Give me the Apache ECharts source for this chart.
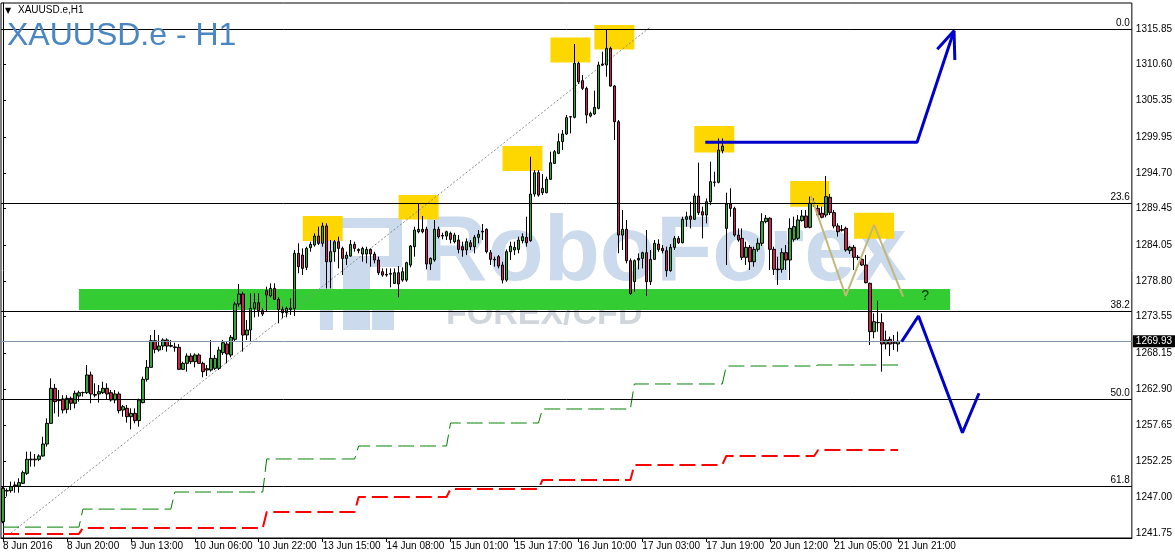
<!DOCTYPE html>
<html><head><meta charset="utf-8">
<script src="https://cdn.jsdelivr.net/npm/echarts@6/dist/echarts.min.js"></script>
<style>html,body{margin:0;padding:0;background:#fff}#c{width:1175px;height:558px}</style>
</head><body><div id="c"></div>
<script>
// ---------- DATA ----------
const tickLabels = ['8 Jun 2016','8 Jun 20:00','9 Jun 13:00','10 Jun 06:00','10 Jun 22:00','13 Jun 15:00','14 Jun 08:00','15 Jun 01:00','15 Jun 17:00','16 Jun 10:00','17 Jun 03:00','17 Jun 19:00','20 Jun 12:00','21 Jun 05:00','21 Jun 21:00'];
const priceTicks = [1315.85,1310.60,1305.35,1299.95,1294.70,1289.45,1284.05,1278.80,1273.55,1268.15,1262.90,1257.65,1252.25,1247.00,1241.75];
const lastPrice = 1269.93;
const fibNames = ['0.0','23.6','38.2','50.0','61.8'];
const fibPrices = [1315.85,1290.26,1274.38,1261.44,1248.64];
// hourly candles: [open, high, low, close]
const candles = [
[1243.40,1248.55,1243.16,1248.31],[1247.9,1248.3,1247.1,1248.0],[1247.96,1249.29,1247.67,1248.55],[1248.8,1249.29,1247.67,1248.7],[1248.65,1249.78,1247.67,1249.14],
[1249.04,1250.9,1248.94,1250.61],[1250.51,1253.7,1250.27,1252.57],[1252.5,1253.7,1251.49,1252.6],[1252.6,1253.35,1251.49,1252.5],[1252.57,1253.3,1252.3,1253.06],
[1253.06,1255.9,1252.96,1254.82],[1254.82,1258.6,1254.43,1257.86],[1257.86,1264.48,1257.77,1263.01],[1263.01,1263.65,1259.33,1261.05],[1261.2,1262.77,1258.84,1261.3],
[1261.44,1262.0,1259.33,1259.82],[1259.92,1262.0,1259.33,1261.54],[1261.54,1261.79,1259.82,1260.81],[1260.81,1262.67,1260.07,1262.28],[1261.88,1262.67,1261.05,1262.37],
[1262.37,1262.52,1261.79,1262.4],[1262.37,1266.44,1262.18,1264.97],[1264.97,1265.46,1260.81,1262.18],[1262.1,1263.75,1261.69,1262.0],[1262.18,1263.5,1260.9,1262.52],
[1262.37,1263.99,1262.18,1263.01],[1263.01,1263.75,1261.3,1262.18],[1262.37,1262.77,1261.05,1261.3],[1261.3,1262.77,1260.81,1262.18],[1262.18,1262.52,1259.33,1259.73],
[1259.82,1260.56,1258.84,1260.31],[1260.07,1260.56,1257.96,1258.84],[1258.84,1260.07,1256.98,1259.33],[1259.33,1260.07,1257.86,1258.26],[1258.26,1261.5,1257.37,1261.3],
[1260.9,1264.73,1260.81,1264.33],[1264.33,1267.18,1263.99,1266.1],[1266.1,1270.85,1266.0,1270.02],[1270.02,1271.59,1268.16,1268.75],[1268.64,1270.85,1268.4,1269.23],
[1269.23,1270.36,1268.64,1270.12],[1270.12,1270.36,1268.4,1269.23],[1269.3,1270.12,1269.04,1269.2],[1269.1,1269.72,1268.4,1269.0],[1269.04,1269.53,1265.7,1265.8],
[1265.8,1266.93,1265.7,1266.68],[1266.68,1268.15,1265.46,1267.76],[1267.76,1268.15,1266.58,1266.93],[1266.93,1268.15,1266.1,1267.91],[1267.91,1268.15,1266.58,1266.68],
[1266.68,1266.93,1264.62,1265.46],[1265.9,1266.44,1264.82,1265.7],[1265.7,1270.12,1265.46,1267.42],[1265.95,1267.91,1265.7,1267.42],[1265.95,1269.13,1265.7,1268.64],
[1268.25,1270.12,1267.91,1269.72],[1269.53,1269.87,1266.68,1268.06],[1267.91,1270.85,1267.57,1270.51],[1270.21,1275.75,1269.87,1275.41],[1275.41,1278.35,1275.02,1276.88],
[1276.88,1277.22,1268.4,1270.85],[1270.85,1273.05,1270.12,1271.58],[1271.58,1276.98,1269.87,1274.77],[1274.77,1276.98,1273.45,1275.6],[1275.6,1276.98,1273.55,1274.43],
[1274.43,1274.77,1273.64,1273.94],[1277.37,1277.96,1274.28,1276.73],[1276.59,1278.45,1276.39,1277.71],[1277.71,1278.45,1276.0,1276.1],[1276.1,1276.39,1272.57,1274.62],
[1274.62,1275.02,1273.3,1274.13],[1274.13,1275.02,1273.45,1274.77],[1274.6,1276.24,1273.8,1274.8],[1274.77,1283.35,1273.64,1282.86],[1282.86,1284.33,1279.92,1280.9],
[1282.61,1283.59,1279.67,1280.65],[1280.8,1283.84,1280.4,1283.59],[1283.69,1284.57,1283.1,1284.18],[1284.08,1285.8,1283.84,1285.4],[1285.4,1286.78,1284.08,1284.33],
[1284.33,1287.37,1283.84,1286.88],[1286.88,1287.27,1277.71,1281.63],[1281.63,1284.82,1277.71,1283.1],[1283.1,1284.82,1281.63,1284.57],[1284.57,1285.31,1280.65,1283.59],
[1283.59,1283.84,1279.67,1282.12],[1282.12,1283.1,1281.14,1282.61],[1282.46,1284.82,1282.37,1284.18],[1284.18,1284.57,1283.1,1283.59],[1283.44,1283.59,1282.86,1283.25],
[1282.76,1283.84,1281.63,1283.59],[1282.76,1283.84,1281.39,1283.44],[1283.44,1283.59,1280.9,1282.76],[1282.76,1283.1,1281.39,1281.88],[1281.88,1282.37,1279.67,1280.01],
[1280.16,1280.65,1279.42,1279.67],[1279.77,1280.65,1279.42,1279.67],[1279.9,1280.65,1277.86,1279.8],[1278.44,1280.65,1278.35,1280.01],[1280.01,1280.99,1276.39,1278.35],
[1278.93,1280.8,1278.69,1280.16],[1278.93,1281.63,1278.69,1281.48],[1281.14,1284.08,1280.8,1283.93],[1283.84,1286.78,1282.37,1286.29],[1286.04,1290.21,1285.8,1286.39],
[1286.39,1288.35,1285.8,1286.04],[1286.39,1286.78,1280.5,1281.29],[1281.29,1282.27,1280.4,1282.12],[1281.88,1287.76,1281.63,1286.39],[1286.39,1286.78,1285.06,1285.31],
[1285.5,1285.89,1284.91,1285.4],[1285.4,1286.19,1284.82,1286.04],[1285.8,1286.04,1284.33,1284.91],[1284.57,1285.89,1284.33,1285.55],[1284.82,1285.55,1282.86,1283.44],
[1283.84,1284.57,1282.37,1283.35],[1283.35,1285.06,1282.61,1284.57],[1284.42,1284.82,1283.35,1283.84],[1283.84,1285.55,1282.86,1285.21],[1285.21,1286.29,1284.33,1285.65],
[1286.1,1287.17,1284.82,1286.0],[1286.39,1286.53,1282.86,1283.1],[1282.95,1283.35,1281.14,1281.97],[1282.0,1282.37,1280.9,1281.9],[1282.37,1282.61,1280.65,1280.99],
[1281.14,1281.63,1278.44,1278.93],[1278.93,1283.44,1278.69,1283.1],[1283.1,1284.57,1281.88,1283.93],[1283.35,1284.57,1282.61,1283.74],[1283.44,1285.31,1282.86,1284.82],
[1284.72,1285.8,1284.33,1285.31],[1285.21,1288.25,1283.84,1284.42],[1284.72,1297.07,1284.57,1291.58],[1291.58,1295.11,1291.19,1294.72],[1294.72,1295.11,1291.19,1291.43],
[1291.78,1294.52,1291.43,1292.42],[1291.78,1294.13,1291.68,1293.74],[1293.74,1297.81,1293.64,1296.19],[1296.09,1298.05,1295.99,1297.81],[1297.56,1300.5,1297.46,1299.28],
[1299.28,1300.99,1298.05,1300.41],[1300.41,1303.2,1300.26,1302.81],[1302.95,1303.05,1300.5,1302.9],[1302.86,1313.64,1302.71,1310.8],[1310.8,1311.04,1307.76,1308.1],
[1308.25,1309.08,1306.88,1307.12],[1307.12,1307.37,1301.97,1303.2],[1303.05,1303.69,1302.86,1303.44],[1303.35,1306.78,1303.2,1304.33],[1304.18,1311.04,1304.03,1310.55],
[1310.7,1312.51,1310.41,1310.55],[1310.55,1315.7,1308.84,1313.0],[1313.0,1313.25,1307.37,1307.46],[1307.46,1307.61,1299.52,1302.22],[1302.22,1302.46,1282.86,1285.55],
[1285.55,1289.23,1283.35,1286.39],[1286.39,1287.76,1281.39,1281.78],[1281.78,1282.12,1276.73,1276.97],[1278.69,1281.97,1277.22,1281.78],[1281.88,1282.86,1280.5,1282.12],
[1282.12,1283.1,1280.65,1282.95],[1282.95,1286.29,1276.58,1278.69],[1278.69,1283.35,1278.2,1281.97],[1281.97,1284.82,1281.88,1284.33],[1284.23,1284.92,1283.1,1283.44],
[1283.59,1284.08,1282.86,1283.25],[1283.25,1283.84,1279.42,1280.31],[1280.31,1284.23,1280.16,1283.74],[1283.74,1285.41,1283.35,1285.06],[1285.06,1285.41,1284.23,1284.42],
[1284.42,1288.25,1284.33,1287.86],[1287.86,1288.98,1286.78,1288.25],[1288.35,1290.45,1286.53,1287.86],[1287.86,1291.68,1287.76,1291.29],[1291.29,1296.19,1288.49,1288.84],
[1288.98,1289.72,1285.06,1288.49],[1288.49,1290.94,1287.27,1290.45],[1290.45,1296.34,1289.95,1293.4],[1293.35,1294.87,1292.66,1293.3],[1293.3,1299.77,1293.15,1298.05],
[1297.95,1299.77,1297.56,1298.64],[1286.53,1291.78,1281.14,1290.11],[1290.11,1292.42,1288.25,1289.47],[1289.47,1289.72,1285.31,1285.55],[1285.55,1286.53,1284.57,1284.82],
[1285.06,1286.53,1281.88,1282.27],[1282.27,1284.57,1281.14,1283.74],[1283.74,1284.08,1280.41,1281.63],[1281.63,1283.84,1280.9,1283.44],[1283.45,1285.07,1283.11,1284.34],
[1284.34,1288.75,1283.94,1287.52],[1287.52,1288.5,1287.28,1288.02],[1288.02,1288.16,1280.41,1283.45],[1283.45,1283.84,1279.68,1280.51],[1280.55,1282.37,1278.21,1280.45],
[1280.51,1283.6,1280.02,1282.96],[1282.96,1284.09,1280.41,1281.88],[1281.88,1288.01,1278.94,1286.54],[1284.92,1288.26,1284.58,1286.79],[1285.07,1288.5,1284.83,1287.77],
[1287.67,1289.24,1287.52,1288.35],[1288.35,1289.24,1286.54,1286.69],[1286.69,1291.2,1286.54,1290.22],[1290.2,1290.95,1289.73,1290.25],[1289.48,1289.97,1288.26,1288.5],
[1288.75,1289.73,1288.01,1288.16],[1288.5,1294.24,1288.16,1291.2],[1291.1,1291.59,1288.5,1288.85],[1288.85,1289.24,1286.54,1286.88],[1286.88,1287.28,1285.32,1286.05],
[1286.25,1287.03,1286.05,1286.35],[1286.54,1286.79,1283.11,1283.35],[1283.26,1283.94,1282.77,1283.75],[1283.75,1284.09,1280.41,1282.28],[1282.3,1282.62,1281.88,1282.25],
[1281.98,1282.37,1281.0,1281.15],[1281.15,1282.62,1278.45,1278.55],[1278.45,1278.55,1269.38,1271.34],[1271.34,1274.04,1270.36,1272.81],[1272.7,1275.9,1271.34,1272.66],
[1272.66,1274.04,1265.46,1269.53],[1269.53,1271.49,1268.74,1270.12],[1270.21,1270.61,1267.76,1269.53],[1269.73,1270.85,1268.64,1269.63],[1269.53,1271.34,1268.4,1269.93]
];
// daily indicator levels (first bar index of each trading day)
const dayStarts = [0,20,43,66,89,112,135,158,181,204];
const greenLevels = [1242.6,1245.25,1247.76,1252.62,1254.53,1257.91,1259.97,1263.65,1266.29,1266.44];
const redLevels = [1241.6,1242.47,1242.47,1244.82,1247.03,1248.2,1249.53,1251.74,1253.06,1253.94];
// annotations in (bar index, price)
const supportZone = [19,237,1277.61,1274.53];
const yellowBoxes = [[75,85,1288.35,1284.67],[99,109,1291.44,1287.84],[125,135,1298.65,1294.97],[137,147,1314.6,1310.93],[148,158,1316.44,1312.84],[173,183,1301.59,1297.69],[197,206.75,1293.5,1289.72],[213,223,1288.84,1285.01]];
const fibTrend = [[2,1241.74],[162,1316.14]];
const bullPath = [[175.75,1299.19],[228.75,1299.19],[238,1315.6]];
const bullHead = [[233.8,1312.86],[238,1315.6],[238.2,1311.29]];
const bearPath = [[224.9,1269.87],[229.1,1273.64],[240.1,1256.48],[244.25,1262.28]];
const zigzag = [[202.2,1291.29],[210.9,1276.59],[218,1287.03],[225.25,1276.48]];
const questionMark = [230.8,1276.6];

// ---------- BUILD ----------
const NCAT = 283;
const cats = Array.from({length:NCAT},(_,i)=>String(i));
const kData = candles.map(r=>[r[0],r[3],r[2],r[1]]);
function expand(levels){
  const out=[];
  for(let d=0; d<dayStarts.length; d++){
    const end = d+1<dayStarts.length ? dayStarts[d+1] : candles.length;
    for(let i=dayStarts[d]; i<end; i++) out.push(levels[d]);
  }
  return out;
}
const greenLine = expand(greenLevels);
const redLine = expand(redLevels);
const FONT = 'Liberation Sans, Arial, sans-serif';
const WM = '#cbdaec';

const chart = echarts.init(document.getElementById('c'), null, {renderer:'canvas'});
function rectItem(params, api, color){
  const p1 = api.coord([api.value(0), api.value(2)]);
  const p2 = api.coord([api.value(1), api.value(3)]);
  return {type:'rect', shape:{x:p1[0], y:p1[1], width:p2[0]-p1[0], height:p2[1]-p1[1]}, style:{fill:color}};
}
const fibMark = fibPrices.map((p,k)=>({yAxis:p, lineStyle:{color:'#000',width:1,type:'solid'},
  label:{show:true, position:'insideEndTop', formatter:fibNames[k], color:'#000', fontSize:10, fontFamily:FONT, distance:[2,1]}}));
fibMark.push({yAxis:lastPrice, lineStyle:{color:'#8094aa',width:1,type:'solid'},
  label:{show:true, position:'end', formatter:lastPrice.toFixed(2), color:'#fff', backgroundColor:'#000', padding:[1,3,1,3], fontSize:10, fontFamily:FONT, distance:1}});

// watermark logo blocks (decoration)
const logo = [[320,218,13,112],[320,218,82,10],[389,218,13,48],[343,256,59,11],[343,267,27,63],[372,300,22,30]]
  .map(r=>({type:'rect', z:0, silent:true, shape:{x:r[0],y:r[1],width:r[2],height:r[3]}, style:{fill:WM}}));

const option = {
  animation:false,
  backgroundColor:'#fff',
  grid:{left:1, top:3, right:42, bottom:20, show:true, borderColor:'#000', borderWidth:1, backgroundColor:'transparent'},
  xAxis:[{
    type:'category', data:cats, boundaryGap:true,
    axisLine:{show:true, lineStyle:{color:'#000'}},
    axisTick:{show:true, alignWithLabel:true, length:4, lineStyle:{color:'#000'}, interval:(i)=> i%16===0 && i/16<tickLabels.length},
    axisLabel:{interval:(i)=> i%16===0 && i/16<tickLabels.length, formatter:(v,i)=> tickLabels[i/16]||'', align:'left', margin:3, fontSize:10, fontFamily:FONT, color:'#000'},
    splitLine:{show:false}
  },{
    type:'value', min:-0.5, max:NCAT-0.5, show:false
  }],
  yAxis:[{
    type:'value', position:'right', min:1241.0, max:1319.674, scale:true,
    axisLine:{show:true, lineStyle:{color:'#000'}},
    axisTick:{show:true, length:3, customValues:priceTicks, lineStyle:{color:'#000'}},
    axisLabel:{customValues:priceTicks, formatter:(v)=>v.toFixed(2), margin:4, fontSize:10, fontFamily:FONT, color:'#000'},
    splitLine:{show:false}
  }],
  graphic:[
    ...logo,
    {type:'text', z:0, left:421, top:209, silent:true, style:{text:'RoboForex', fill:WM, font:'bold 92px '+FONT}},
    {type:'text', z:0, left:446, top:298, silent:true, style:{text:'FOREX/CFD', fill:'#d0d6dc', font:'bold 34px '+FONT}},
    {type:'text', z:100, left:5, top:7, style:{text:'▼', fill:'#000', font:'8px DejaVu Sans'}},
    {type:'text', z:100, left:18, top:5, style:{text:'XAUUSD.e,H1', fill:'#000', font:'10px '+FONT}},
    {type:'text', z:100, left:7, top:20, style:{text:'XAUUSD.e - H1', fill:'#4a86c2', font:'32px '+FONT}}
  ],
  series:[
    {type:'custom', name:'zone', xAxisIndex:1, yAxisIndex:0, z:1, silent:true, encode:{x:[0,1],y:[2,3]},
      data:[supportZone], renderItem:(p,a)=>rectItem(p,a,'#33cc33')},
    {type:'custom', name:'boxes', xAxisIndex:1, yAxisIndex:0, z:1, silent:true, encode:{x:[0,1],y:[2,3]},
      data:yellowBoxes, renderItem:(p,a)=>rectItem(p,a,'#ffd700')},
    {type:'line', name:'fibTrend', xAxisIndex:1, z:2, data:fibTrend, showSymbol:false, silent:true,
      lineStyle:{color:'#8c8c8c', width:1, type:[2,2]}},
    {type:'line', name:'green', xAxisIndex:0, z:2, data:greenLine, showSymbol:false, silent:true,
      lineStyle:{color:'#008000', width:1, type:[16,6]}},
    {type:'line', name:'red', xAxisIndex:0, z:2, data:redLine, showSymbol:false, silent:true,
      lineStyle:{color:'#ff0000', width:2, type:[16,6]}},
    {type:'candlestick', name:'XAUUSD', xAxisIndex:0, z:3, data:kData, barWidth:3,
      itemStyle:{color:'#33a833', color0:'#d0204c', borderColor:'#000', borderColor0:'#000', borderColorDoji:'#000', borderWidth:1},
      markLine:{symbol:'none', silent:true, animation:false, data:fibMark}},
    {type:'line', name:'zig', xAxisIndex:1, z:4, data:zigzag, showSymbol:false, silent:true,
      lineStyle:{color:'#c2b77a', width:2}},
    {type:'line', name:'bull', xAxisIndex:1, z:5, data:bullPath, showSymbol:false, silent:true,
      lineStyle:{color:'#0000cc', width:3}},
    {type:'line', name:'bullHead', xAxisIndex:1, z:5, data:bullHead, showSymbol:false, silent:true,
      lineStyle:{color:'#0000cc', width:3}},
    {type:'line', name:'bear', xAxisIndex:1, z:5, data:bearPath, showSymbol:false, silent:true,
      lineStyle:{color:'#0000cc', width:3}},
    {type:'scatter', name:'q', xAxisIndex:1, z:5, data:[questionMark], symbolSize:0, silent:true,
      label:{show:true, position:'inside', formatter:'?', color:'#000', fontSize:14, fontFamily:FONT}}
  ]
};
chart.setOption(option);
</script>
</body></html>
